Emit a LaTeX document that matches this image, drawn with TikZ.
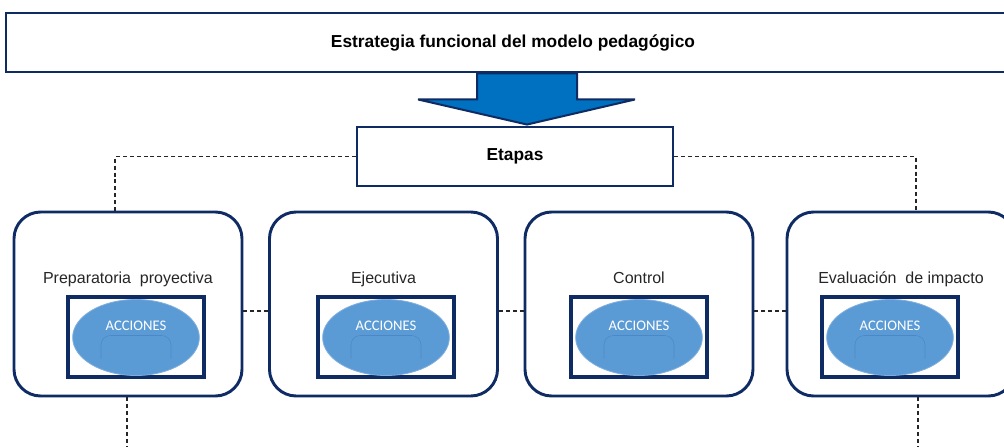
\documentclass[tikz,border=0pt]{standalone}
\usepackage{fontspec}
\setmainfont{Liberation Sans}
\newfontfamily\calibri{Carlito}
\usetikzlibrary{shapes.geometric,calc,backgrounds}
\definecolor{navy}{HTML}{0F2B63}
\definecolor{arrowblue}{HTML}{0070C0}
\definecolor{ellfill}{HTML}{5B9BD5}
\definecolor{ellline}{HTML}{7FAEDE}
\definecolor{arcline}{HTML}{4C88C6}
\begin{document}
\begin{tikzpicture}[x=0.75pt,y=-0.75pt,
  frame/.style={draw=navy,line width=2.2pt,fill=white,inner sep=0pt},
  stage/.style={draw=navy,line width=2.2pt,rounded corners=20pt,fill=white,minimum width=171pt,minimum height=138pt,inner sep=0pt},
  inbox/.style={draw=navy,line width=2.4pt,minimum width=102pt,minimum height=60pt,inner sep=0pt},
  acc/.style={ellipse,fill=ellfill,draw=ellline,line width=0.6pt,minimum width=95pt,minimum height=57pt,inner sep=0pt},
  link/.style={line width=0.85pt,dash pattern=on 3pt off 2.2pt,draw=black!85},
  lbl/.style={font=\fontsize{12}{14}\selectfont,text=black!85,anchor=base,inner sep=0pt},
  acctxt/.style={font=\calibri\fontsize{11}{13}\selectfont,text=white,anchor=base,inner sep=0pt},
  blockarrow/.style={fill=arrowblue,draw=navy,line width=1.5pt,line join=miter,miter limit=2}
]
\useasboundingbox (0,0) rectangle (1004,447);

\node[frame,minimum width=760.5pt,minimum height=44.25pt,font=\bfseries\fontsize{13}{15}\selectfont] (top) at (513,42.5) {Estrategia funcional del modelo pedag\'ogico};
\node[frame,minimum width=237pt,minimum height=44.25pt,font=\bfseries\fontsize{13}{15}\selectfont] (etapas) at (515,156.5) {Etapas};

\begin{scope}[on background layer]
\draw[blockarrow] ($(top.south)+(-36,0)$) -- ($(top.south)+(64,0)$) -- ($(top.south)+(64,26)$) -- ($(top.south)+(122,26)$)
  -- ($(etapas.north)+(12,-1)$) -- ($(top.south)+(-95,26)$) -- ($(top.south)+(-36,26)$) -- cycle;
\end{scope}

% stages
\foreach \n/\cx/\ix/\txt in {1/128/136/Preparatoria\ \ proyectiva, 2/383.5/386/Ejecutiva, 3/639/639/Control, 4/901/890/Evaluaci\'on\ \ de impacto}{
  \node[stage] (s\n) at (\cx,304) {};
  \node[lbl] (l\n) at (\cx,283) {\txt};
  \node[inbox] (b\n) at (\ix,337) {};
  \node[acc] (e\n) at (\ix,337.5) {};
  \draw[arcline,line width=0.4pt,rounded corners=7pt] ($(e\n.center)+(-35,21)$) -- ($(e\n.center)+(-35,-2)$) -- ($(e\n.center)+(35,-2)$) -- ($(e\n.center)+(35,21)$);
  \node[acctxt] (a\n) at (\ix,330) {ACCIONES};
}

% dashed connectors
\coordinate (d1) at ($(s1.north)+(-13,0)$);
\coordinate (d4) at ($(s4.north)+(15,0)$);
\draw[link] (etapas.west) -| (d1);
\draw[link] (etapas.east) -| (d4);
\draw[link] ($(s1.east)+(0,7)$) -- ($(s2.west)+(0,7)$);
\draw[link] ($(s2.east)+(0,7)$) -- ($(s3.west)+(0,7)$);
\draw[link] ($(s3.east)+(0,7)$) -- ($(s4.west)+(0,7)$);
\coordinate (f1) at (127,447);
\coordinate (f4) at (918,447);
\draw[link] ($(s1.south)+(-1,0)$) -- (f1);
\draw[link] ($(s4.south)+(17,0)$) -- (f4);
\end{tikzpicture}
\end{document}
